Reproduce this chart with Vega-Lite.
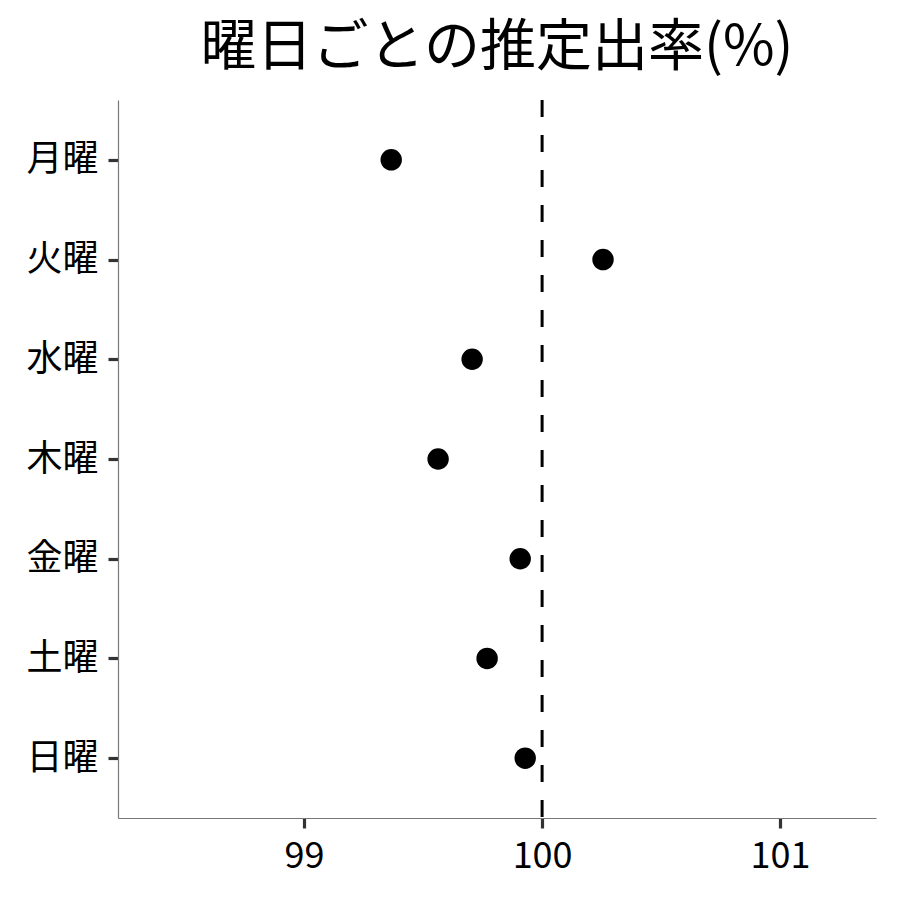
{
  "$schema": "https://vega.github.io/schema/vega-lite/v6.json",
  "width": 758,
  "height": 718,
  "autosize": "none",
  "padding": {"left": 118, "top": 100, "right": 24, "bottom": 82},
  "background": "white",
  "title": {
    "text": "曜日ごとの推定出率(%)",
    "font": "Noto Sans CJK JP",
    "fontSize": 56,
    "fontWeight": "normal",
    "color": "black",
    "anchor": "middle",
    "offset": 22
  },
  "config": {
    "view": {"stroke": null},
    "axis": {
      "grid": false,
      "domainColor": "#777777",
      "domainWidth": 1.2,
      "tickColor": "#333333",
      "tickWidth": 3.2,
      "tickSize": 10,
      "labelFont": "Noto Sans CJK JP",
      "labelFontSize": 36,
      "labelColor": "black"
    }
  },
  "layer": [
    {
      "data": {"values": [
        {"day": "月曜", "rate": 99.366},
        {"day": "火曜", "rate": 100.256},
        {"day": "水曜", "rate": 99.706},
        {"day": "木曜", "rate": 99.563},
        {"day": "金曜", "rate": 99.908},
        {"day": "土曜", "rate": 99.769},
        {"day": "日曜", "rate": 99.929}
      ]},
      "mark": {"type": "point", "filled": true, "color": "black", "opacity": 1, "size": 460},
      "encoding": {
        "x": {"field": "rate", "type": "quantitative", "title": null,
              "scale": {"domain": [98.218, 101.403], "nice": false, "zero": false},
              "axis": {"values": [99, 100, 101], "format": "d", "labelPadding": 11}},
        "y": {"field": "day", "type": "nominal", "title": null,
              "sort": ["月曜", "火曜", "水曜", "木曜", "金曜", "土曜", "日曜"],
              "scale": {"type": "point", "padding": 0.6},
              "axis": {"labelPadding": 10}}
      }
    },
    {
      "data": {"values": [{"ref": 100}]},
      "mark": {"type": "rule", "color": "black", "strokeWidth": 3, "strokeDash": [17, 18]},
      "encoding": {"x": {"field": "ref", "type": "quantitative"}}
    }
  ]
}
